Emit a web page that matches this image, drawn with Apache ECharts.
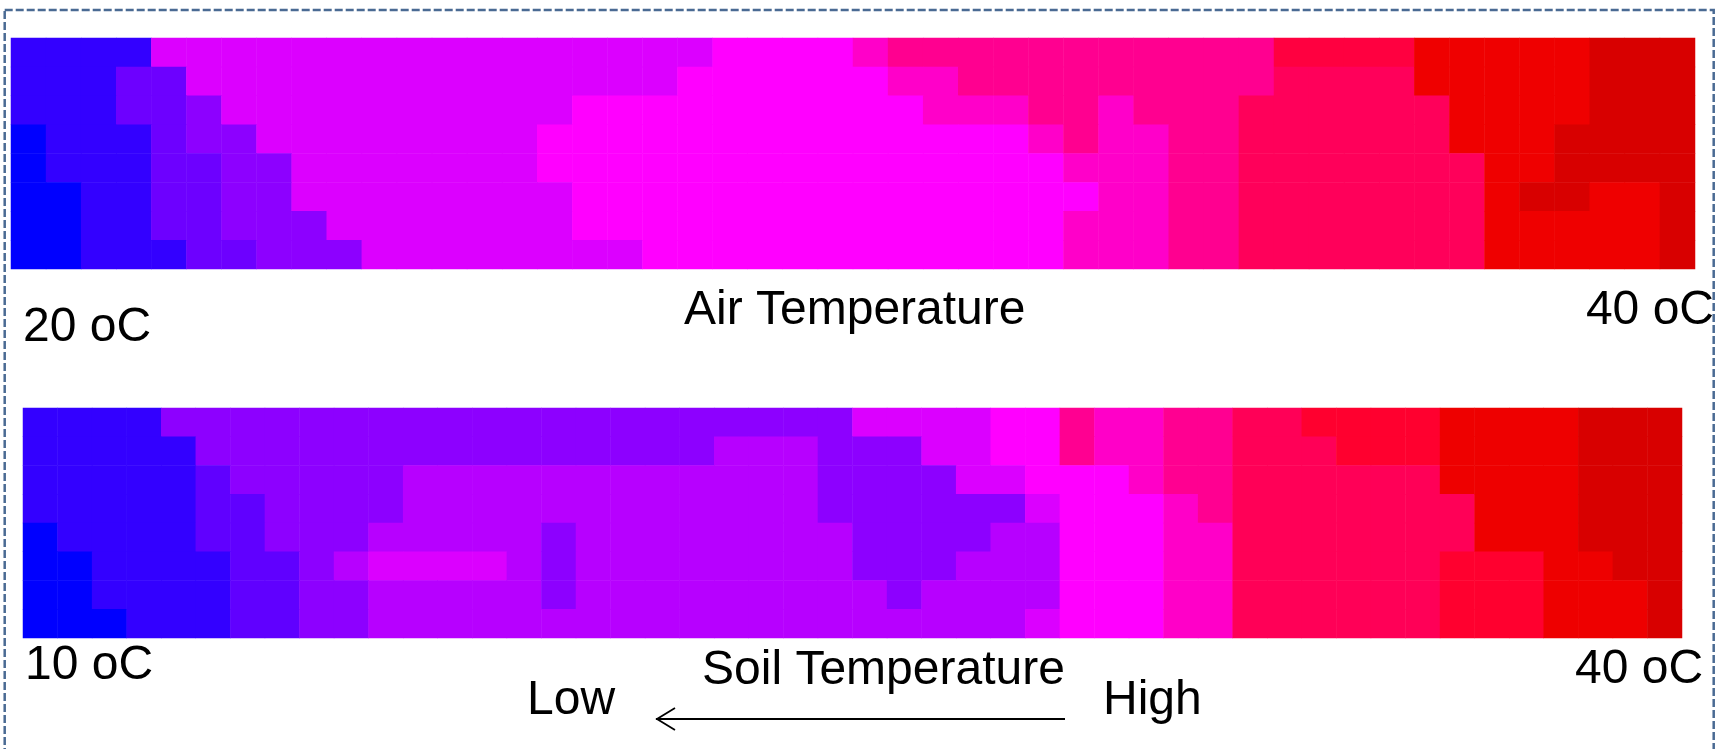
<!DOCTYPE html>
<html>
<head>
<meta charset="utf-8">
<script src="https://cdn.jsdelivr.net/npm/echarts@6/dist/echarts.min.js"></script>
<style>
html,body{margin:0;padding:0;background:#fff;}
#c{width:1722px;height:749px;}
</style>
</head>
<body>
<div id="c"></div>
<script>
// Air temperature (oC) per cell, 8 rows (top to bottom) x 48 columns (left to right)
const airRow0 = [21.6,21.6,21.6,21.6,26.9,26.9,26.9,26.9,26.9,26.9,26.9,26.9, 26.9,26.9,26.9,26.9,26.9,26.9,26.9,26.9,28,28,28,28, 29.7,31.5,31.5,31.5,31.5,31.5,31.5,31.5,31.5,31.5,31.5,31.5, 34,34,34,34,37.4,37.4,37.4,37.4,37.4,39.3,39.3,39.3];
const airRow1 = [21.6,21.6,21.6,23.4,23.4,26.9,26.9,26.9,26.9,26.9,26.9,26.9, 26.9,26.9,26.9,26.9,26.9,26.9,26.9,28,28,28,28,28, 28,29.7,29.7,31.5,31.5,31.5,31.5,31.5,31.5,31.5,31.5,31.5, 33.2,33.2,33.2,33.2,37.4,37.4,37.4,37.4,37.4,39.3,39.3,39.3];
const airRow2 = [21.6,21.6,21.6,23.4,23.4,24.4,26.9,26.9,26.9,26.9,26.9,26.9, 26.9,26.9,26.9,26.9,28,28,28,28,28,28,28,28, 28,28,29.7,29.7,29.7,31.5,31.5,29.7,31.5,31.5,31.5,33.2, 33.2,33.2,33.2,33.2,33.2,37.4,37.4,37.4,37.4,39.3,39.3,39.3];
const airRow3 = [20,21.6,21.6,21.6,23.4,24.4,24.4,26.9,26.9,26.9,26.9,26.9, 26.9,26.9,26.9,28,28,28,28,28,28,28,28,28, 28,28,28,28,28,29.7,31.5,29.7,29.7,31.5,31.5,33.2, 33.2,33.2,33.2,33.2,33.2,37.4,37.4,37.4,39.3,39.3,39.3,39.3];
const airRow4 = [20,21.6,21.6,21.6,23.4,23.4,24.4,24.4,26.9,26.9,26.9,26.9, 26.9,26.9,26.9,28,28,28,28,28,28,28,28,28, 28,28,28,28,28,28,29.7,29.7,29.7,31.5,31.5,33.2, 33.2,33.2,33.2,33.2,33.2,33.2,37.4,37.4,39.3,39.3,39.3,39.3];
const airRow5 = [20,20,21.6,21.6,23.4,23.4,24.4,24.4,26.9,26.9,26.9,26.9, 26.9,26.9,26.9,26.9,28,28,28,28,28,28,28,28, 28,28,28,28,28,28,28,29.7,29.7,31.5,31.5,33.2, 33.2,33.2,33.2,33.2,33.2,33.2,37.4,39.3,39.3,37.4,37.4,39.3];
const airRow6 = [20,20,21.6,21.6,23.4,23.4,24.4,24.4,24.4,26.9,26.9,26.9, 26.9,26.9,26.9,26.9,28,28,28,28,28,28,28,28, 28,28,28,28,28,28,29.7,29.7,29.7,31.5,31.5,33.2, 33.2,33.2,33.2,33.2,33.2,33.2,37.4,37.4,37.4,37.4,37.4,39.3];
const airRow7 = [20,20,21.6,21.6,21.6,23.4,23.4,24.4,24.4,24.4,26.9,26.9, 26.9,26.9,26.9,26.9,26.9,26.9,28,28,28,28,28,28, 28,28,28,28,28,28,29.7,29.7,29.7,31.5,31.5,33.2, 33.2,33.2,33.2,33.2,33.2,33.2,37.4,37.4,37.4,37.4,37.4,39.3];

// Soil temperature (oC) per cell, 8 rows x 48 columns
const soilRow0 = [12.4,12.4,12.4,12.4,16.6,16.6,16.6,16.6,16.6,16.6,16.6,16.6, 16.6,16.6,16.6,16.6,16.6,16.6,16.6,16.6,16.6,16.6,16.6,16.6, 20.3,20.3,20.3,20.3,22,22,27.2,24.6,24.6,27.2,27.2,29.9, 29.9,31.8,31.8,31.8,31.8,36.2,36.2,36.2,36.2,39,39,39];
const soilRow1 = [12.4,12.4,12.4,12.4,12.4,16.6,16.6,16.6,16.6,16.6,16.6,16.6, 16.6,16.6,16.6,16.6,16.6,16.6,16.6,16.6,18.6,18.6,18.6,16.6, 16.6,16.6,20.3,20.3,22,22,27.2,24.6,24.6,27.2,27.2,29.9, 29.9,29.9,31.8,31.8,31.8,36.2,36.2,36.2,36.2,39,39,39];
const soilRow2 = [12.4,12.4,12.4,12.4,12.4,14.5,16.6,16.6,16.6,16.6,16.6,18.6, 18.6,18.6,18.6,18.6,18.6,18.6,18.6,18.6,18.6,18.6,18.6,16.6, 16.6,16.6,16.6,20.3,20.3,22,22,22,24.6,27.2,27.2,29.9, 29.9,29.9,29.9,29.9,29.9,36.2,36.2,36.2,36.2,39,39,39];
const soilRow3 = [12.4,12.4,12.4,12.4,12.4,14.5,14.5,16.6,16.6,16.6,16.6,18.6, 18.6,18.6,18.6,18.6,18.6,18.6,18.6,18.6,18.6,18.6,18.6,16.6, 16.6,16.6,16.6,16.6,16.6,20.3,22,22,22,24.6,27.2,29.9, 29.9,29.9,29.9,29.9,29.9,29.9,36.2,36.2,36.2,39,39,39];
const soilRow4 = [10,12.4,12.4,12.4,12.4,14.5,14.5,16.6,16.6,16.6,18.6,18.6, 18.6,18.6,18.6,16.6,18.6,18.6,18.6,18.6,18.6,18.6,18.6,18.6, 16.6,16.6,16.6,16.6,18.6,18.6,22,22,22,24.6,24.6,29.9, 29.9,29.9,29.9,29.9,29.9,29.9,36.2,36.2,36.2,39,39,39];
const soilRow5 = [10,10,12.4,12.4,12.4,12.4,14.5,14.5,16.6,18.6,20.3,20.3, 20.3,20.3,18.6,16.6,18.6,18.6,18.6,18.6,18.6,18.6,18.6,18.6, 16.6,16.6,16.6,18.6,18.6,18.6,22,22,22,24.6,24.6,29.9, 29.9,29.9,29.9,29.9,29.9,31.8,31.8,31.8,36.2,36.2,39,39];
const soilRow6 = [10,10,12.4,12.4,12.4,12.4,14.5,14.5,16.6,16.6,18.6,18.6, 18.6,18.6,18.6,16.6,18.6,18.6,18.6,18.6,18.6,18.6,18.6,18.6, 18.6,16.6,18.6,18.6,18.6,18.6,22,22,22,24.6,24.6,29.9, 29.9,29.9,29.9,29.9,29.9,31.8,31.8,31.8,36.2,36.2,36.2,39];
const soilRow7 = [10,10,10,12.4,12.4,12.4,14.5,14.5,16.6,16.6,18.6,18.6, 18.6,18.6,18.6,18.6,18.6,18.6,18.6,18.6,18.6,18.6,18.6,18.6, 18.6,18.6,18.6,18.6,18.6,20.3,22,22,22,24.6,24.6,29.9, 29.9,29.9,29.9,29.9,29.9,31.8,31.8,31.8,36.2,36.2,36.2,39];

const airRows = [airRow0, airRow1, airRow2, airRow3, airRow4, airRow5, airRow6, airRow7];
const soilRows = [soilRow0, soilRow1, soilRow2, soilRow3, soilRow4, soilRow5, soilRow6, soilRow7];

// Range labels
const airMinLabel = '20 oC';
const airMaxLabel = '40 oC';
const soilMinLabel = '10 oC';
const soilMaxLabel = '40 oC';
const airTitle = 'Air Temperature';
const soilTitle = 'Soil Temperature';
const lowLabel = 'Low';
const highLabel = 'High';

const colorStops = ['#0000ff', '#8000ff', '#ff00ff', '#ff0080', '#ff0000', '#d00000'];

function toCells(rows) {
  const out = [];
  rows.forEach((row, r) => row.forEach((v, c) => out.push([c, r, v])));
  return out;
}
const colCats = airRow0.map((_, i) => String(i));
const rowCats = airRows.map((_, i) => String(i));

const FONT = '"Liberation Sans", Arial, sans-serif';
function label(text, x, baseline, align) {
  return {
    type: 'text', x: x, y: baseline - 17, silent: true,
    style: { text: text, fill: '#000', font: '48px ' + FONT, align: align || 'left', verticalAlign: 'middle' }
  };
}

const chart = echarts.init(document.getElementById('c'), null, { renderer: 'canvas' });
chart.setOption({
  backgroundColor: '#ffffff',
  animation: false,
  grid: [
    { left: 11, top: 38, width: 1684, height: 231 },
    { left: 23, top: 408, width: 1659, height: 230 }
  ],
  xAxis: [
    { type: 'category', gridIndex: 0, data: colCats, show: false },
    { type: 'category', gridIndex: 1, data: colCats, show: false }
  ],
  yAxis: [
    { type: 'category', gridIndex: 0, data: rowCats, inverse: true, show: false },
    { type: 'category', gridIndex: 1, data: rowCats, inverse: true, show: false }
  ],
  visualMap: [
    { type: 'continuous', show: false, seriesIndex: 0, dimension: 2, min: 20, max: 40, inRange: { color: colorStops } },
    { type: 'continuous', show: false, seriesIndex: 1, dimension: 2, min: 10, max: 40, inRange: { color: colorStops } }
  ],
  series: [
    { name: airTitle, type: 'heatmap', xAxisIndex: 0, yAxisIndex: 0, data: toCells(airRows), itemStyle: { borderWidth: 0 }, emphasis: { disabled: true } },
    { name: soilTitle, type: 'heatmap', xAxisIndex: 1, yAxisIndex: 1, data: toCells(soilRows), itemStyle: { borderWidth: 0 }, emphasis: { disabled: true } }
  ],
  graphic: [
    {
      type: 'rect', silent: true,
      shape: { x: 4.7, y: 10, width: 1709, height: 820 },
      style: { fill: 'none', stroke: '#4a6a93', lineWidth: 2.5, lineDash: [8, 3] }
    },
    label(airMinLabel, 23, 345),
    label(airTitle, 684, 328),
    label(airMaxLabel, 1714, 328, 'right'),
    label(soilMinLabel, 25, 683),
    label(soilTitle, 702, 688),
    label(soilMaxLabel, 1575, 687),
    label(lowLabel, 527, 718),
    label(highLabel, 1103, 718),
    {
      type: 'line', silent: true,
      shape: { x1: 656, y1: 719, x2: 1065, y2: 719 },
      style: { stroke: '#000', lineWidth: 2 }
    },
    {
      type: 'polyline', silent: true,
      shape: { points: [[675, 708], [657, 719], [675, 730]] },
      style: { stroke: '#000', lineWidth: 1.8, fill: 'none' }
    }
  ]
});
</script>
</body>
</html>
